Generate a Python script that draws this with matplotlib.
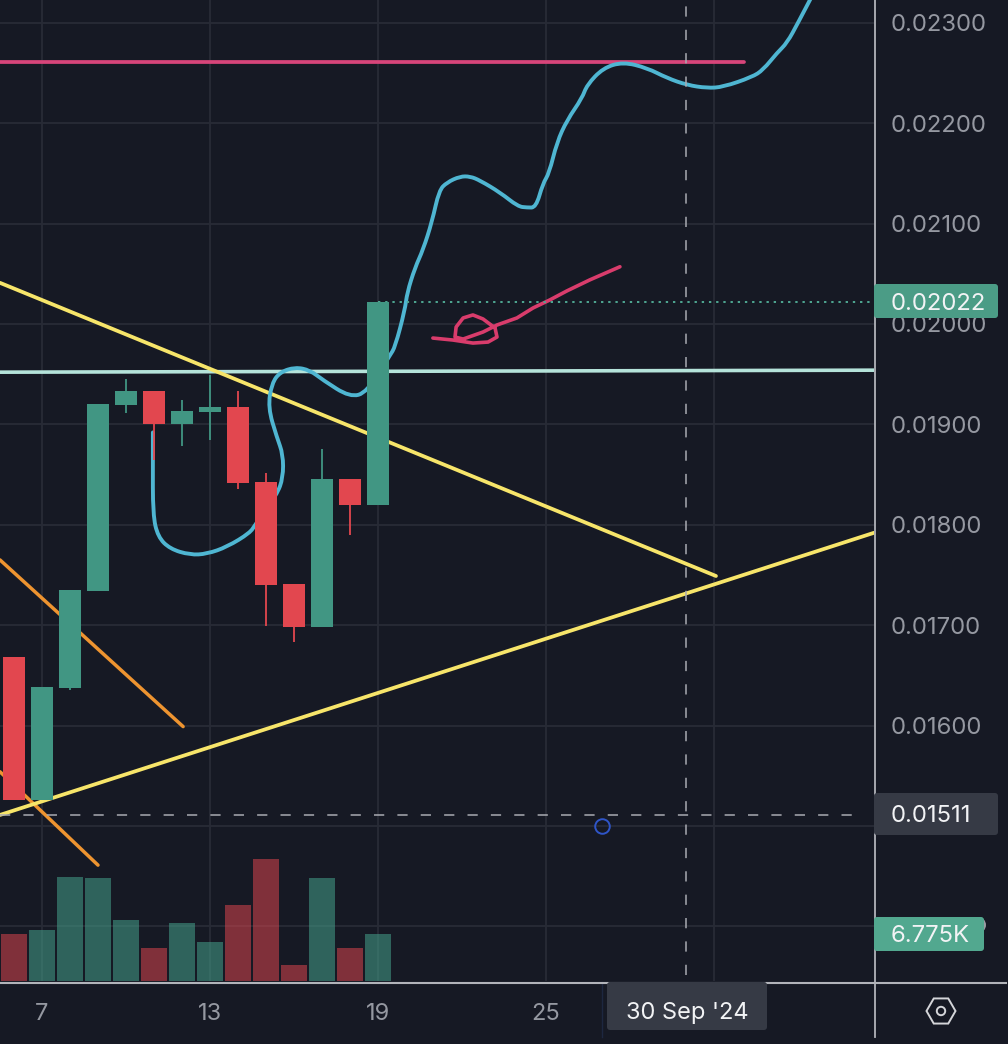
import matplotlib
matplotlib.use("Agg")
import matplotlib.pyplot as plt
from matplotlib.patches import FancyBboxPatch, RegularPolygon, Circle, PathPatch
from matplotlib.path import Path
from matplotlib.lines import Line2D

plt.rcParams['font.family'] = ['Inter', 'DejaVu Sans']

# ---- data ----
days = [6, 7, 8, 9, 10, 11, 12, 13, 14, 15, 16, 17, 18, 19]
opens = [.01668, .01526, .01637, .01734, .01919, .01933, .01900, .01912, .01917, .01843, .01741, .01698, .01846, .01820]
highs = [.01668, .01638, .01735, .01920, .01945, .01933, .01924, .01949, .01933, .01852, .01741, .01875, .01846, .02022]
lows = [.01526, .01526, .01635, .01734, .01911, .01865, .01878, .01884, .01836, .01699, .01683, .01698, .01790, .01820]
closes = [.01526, .01638, .01735, .01920, .01933, .01900, .01913, .01917, .01842, .01740, .01698, .01846, .01820, .02022]
volumes = [6.78, 7.35, 15.0, 14.85, 8.8, 4.76, 8.36, 5.6, 10.96, 17.6, 2.3, 14.85, 4.76, 6.775]

blue_x = [10.96, 10.96, 10.96, 11.14, 11.57, 12.29, 12.89, 13.61, 14.43, 14.61, 15.39, 15.61, 15.61, 15.39, 15.07,
          15.21, 15.5, 16.04, 16.57, 17.04, 18.0, 18.61, 19.43, 19.61, 19.96, 20.04, 20.32, 20.61, 20.93, 21.18,
          21.46, 21.93, 22.29, 22.64, 23.36, 24.0, 24.32, 24.64, 24.89, 25.11, 25.39, 25.75, 26.29, 26.46, 27.04,
          27.75, 28.61, 29.32, 30.04, 30.75, 31.32, 32.36, 32.75, 33.25, 33.61, 34.0, 34.6]
blue_y = [.01892, .01865, .01810, .01788, .01776, .01770, .01771, .01778, .01792, .01800, .01830, .01847, .01870, .01887, .01917,
          .01941, .01952, .01957, .01954, .01944, .01927, .01932, .01969, .01977, .02014, .02031, .02056, .02074, .02102, .02133,
          .02141, .02147, .02147, .02143, .02131, .02117, .02116, .02116, .02140, .02150, .02181, .02203, .02225, .02238, .02255,
          .02261, .02255, .02245, .02238, .02235, .02236, .02246, .02253, .02270, .02280, .02300, .02332]
squig_x = [20.96, 21.68, 22.39, 22.93, 23.25, 23.18, 22.75, 22.39, 22.04, 21.79, 21.75, 22.04, 22.75, 23.25, 23.96,
           24.54, 25.14, 25.75, 26.57, 27.64]
squig_y = [.01986, .01984, .01981, .01982, .01987, .01996, .02005, .02009, .02006, .01997, .01987, .01985, .01992, .01999, .02006,
           .02016, .02024, .02033, .02044, .02057]

pink_h_x, pink_h_y = [5.5, 32.07], [.02261, .02261]
pale_x, pale_y = [5.5, 36.71], [.01952, .01954]
yel_down_x, yel_down_y = [5.5, 31.07], [.02041, .01749]
yel_up_x, yel_up_y = [5.5, 36.71], [.01511, .01792]
org1_x, org1_y = [5.5, 12.04], [.01765, .01599]
org2_x, org2_y = [5.5, 9.0], [.01554, .01461]

cross_price = .01511
cross_day = 30
last_price = .02022
marker_day, marker_price = 27, .0150

price_ticks = [.014, .015, .016, .017, .018, .019, .020, .021, .022, .023]
price_labels = ['', '', '0.01600', '0.01700', '0.01800', '0.01900', '0.02000', '0.02100', '0.02200', '0.02300']
day_ticks = [7, 13, 19, 25, 31]
day_labels = ['7', '13', '19', '25', '']
date_label = "30 Sep '24"
cross_label = '0.01511'
last_label = '0.02022'
vol_label = '6.775K'

# ---- style ----
BG, GRID = '#161924', '#282b36'
GREEN, RED = '#419683', '#e2474f'
TICK = '#9598a1'
AXISC = '#b2b4ba'

fig = plt.figure(figsize=(10.08, 10.44), dpi=100, facecolor=BG)
W, H = 1008, 1044
ax = fig.add_axes([0, 1 - 981 / H, 874 / W, 981 / H], facecolor=BG)
ax.set_xlim(5.5, 36.714)
ax.set_ylim(.013456, .023227)
for s in ax.spines.values():
    s.set_visible(False)

ax.set_yticks(price_ticks)
ax.set_yticklabels(price_labels)
ax.set_xticks(day_ticks)
ax.set_xticklabels(day_labels)
ax.grid(True, color=GRID, lw=1.3, zorder=0)
ax.set_axisbelow(True)

vol = ax.twinx()
vol.set_ylim(0, 141.3)
vol.set_yticks([])
vol.patch.set_visible(False)
for s in vol.spines.values():
    s.set_visible(False)
for d, v, o, c in zip(days, volumes, opens, closes):
    up = c >= o
    vol.bar(d, v, width=0.93, color=GREEN if up else RED, alpha=.6 if up else .52, lw=0)

ax.yaxis.tick_right()
ax.tick_params(axis='y', length=0, pad=12, labelsize=17.2, labelcolor=TICK)
ax.tick_params(axis='x', length=0, pad=16, labelsize=17, labelcolor=TICK)

# drawings beneath candles
kw = dict(solid_capstyle='round', solid_joinstyle='round')
ax.plot(pink_h_x, pink_h_y, color='#d8457a', lw=2.7, zorder=2, **kw)
ax.plot(pale_x, pale_y, color='#b5e3da', lw=2.6, zorder=2, **kw)
ax.plot(org1_x, org1_y, color='#ee9430', lw=2.5, zorder=2, **kw)
ax.plot(org2_x, org2_y, color='#ee9430', lw=2.5, zorder=2, **kw)
ax.plot(yel_down_x, yel_down_y, color='#f7e56a', lw=2.7, zorder=2.1, **kw)
ax.plot(yel_up_x, yel_up_y, color='#f7e56a', lw=2.7, zorder=2.1, **kw)


def smooth(xs, ys):
    """Quadratic curve path through the midpoints of the read points."""
    verts = [(xs[0], ys[0])]
    codes = [Path.MOVETO]
    for i in range(1, len(xs) - 1):
        verts += [(xs[i], ys[i]), ((xs[i] + xs[i + 1]) / 2, (ys[i] + ys[i + 1]) / 2)]
        codes += [Path.CURVE3, Path.CURVE3]
    verts.append((xs[-1], ys[-1]))
    codes.append(Path.LINETO)
    return Path(verts, codes)


ax.add_patch(PathPatch(smooth(blue_x, blue_y), fc='none', ec='#4fb6d2', lw=2.8, capstyle='round', joinstyle='round', zorder=2.2))
ax.plot(squig_x, squig_y, color='#d93c6c', lw=2.6, zorder=2.2, **kw)

# candles
for d, o, h, l, c in zip(days, opens, highs, lows, closes):
    col = GREEN if c >= o else RED
    ax.vlines(d, l, h, color=col, lw=1.3, zorder=3)
    ax.bar(d, abs(c - o), bottom=min(o, c), width=0.786, color=col, lw=0, zorder=3)

# price line and crosshair
ax.plot([19, 36.714], [last_price, last_price], color='#4fa893', lw=1.4, ls=(0, (1.2, 2.5)), zorder=2.5)
dash = dict(color='#a9abb2', lw=1.1, ls=(0, (6.7, 8.6)), zorder=4, dash_capstyle='butt')
ax.plot([5.5, 36.2], [cross_price, cross_price], **dash)
ax.plot([cross_day, cross_day], [.01352, .023227], **dash)
ax.plot([marker_day], [marker_price], marker='o', ms=10.5, mfc='none', mec='#2f55c8', mew=1.4, zorder=4)

# chrome overlay in pixel coordinates
ov = fig.add_axes([0, 0, 1, 1], facecolor='none', zorder=10)
ov.set_xlim(0, W)
ov.set_ylim(H, 0)
ov.axis('off')
ov.add_line(Line2D([602, 602], [982, 1037], color='#1d2740', lw=1))
ov.add_line(Line2D([875, 875], [0, 1037], color=AXISC, lw=1.3))
ov.add_line(Line2D([0, 1006], [982.5, 982.5], color=AXISC, lw=1.5))


def box(x0, y0, x1, y1, col, txt, tx, ty=None, ha='left', tc='#f2f3f5', fs=17.2, r=3):
    ov.add_patch(FancyBboxPatch((x0 + r, y0 + r), x1 - x0 - 2 * r, y1 - y0 - 2 * r,
                                boxstyle=f'round,pad={r},rounding_size={r}', fc=col, ec='none', zorder=5))
    ov.text(tx, (y0 + y1) / 2 if ty is None else ty, txt, color=tc, fontsize=fs, ha=ha, va='center_baseline', zorder=6)


ov.add_patch(Circle((978, 925), 8, fc='#9a9ca3', ec='none', zorder=4))
box(874, 284, 998, 318, '#4b9c86', last_label, 891)
box(874, 793, 998, 835, '#363a45', cross_label, 891)
box(874, 917, 984, 951, '#52a88f', vol_label, 891)
box(607, 982, 767, 1030, '#363a45', date_label, 687, ty=1011, ha='center', fs=17)

ov.add_patch(RegularPolygon((941, 1011), 6, radius=14.5, orientation=3.14159 / 2, fc='none', ec='#d4d5d9', lw=1.4))
ov.add_patch(Circle((941, 1011), 4.2, fc='none', ec='#d4d5d9', lw=1.4))

fig.savefig('out.png', dpi=100, facecolor=BG)
